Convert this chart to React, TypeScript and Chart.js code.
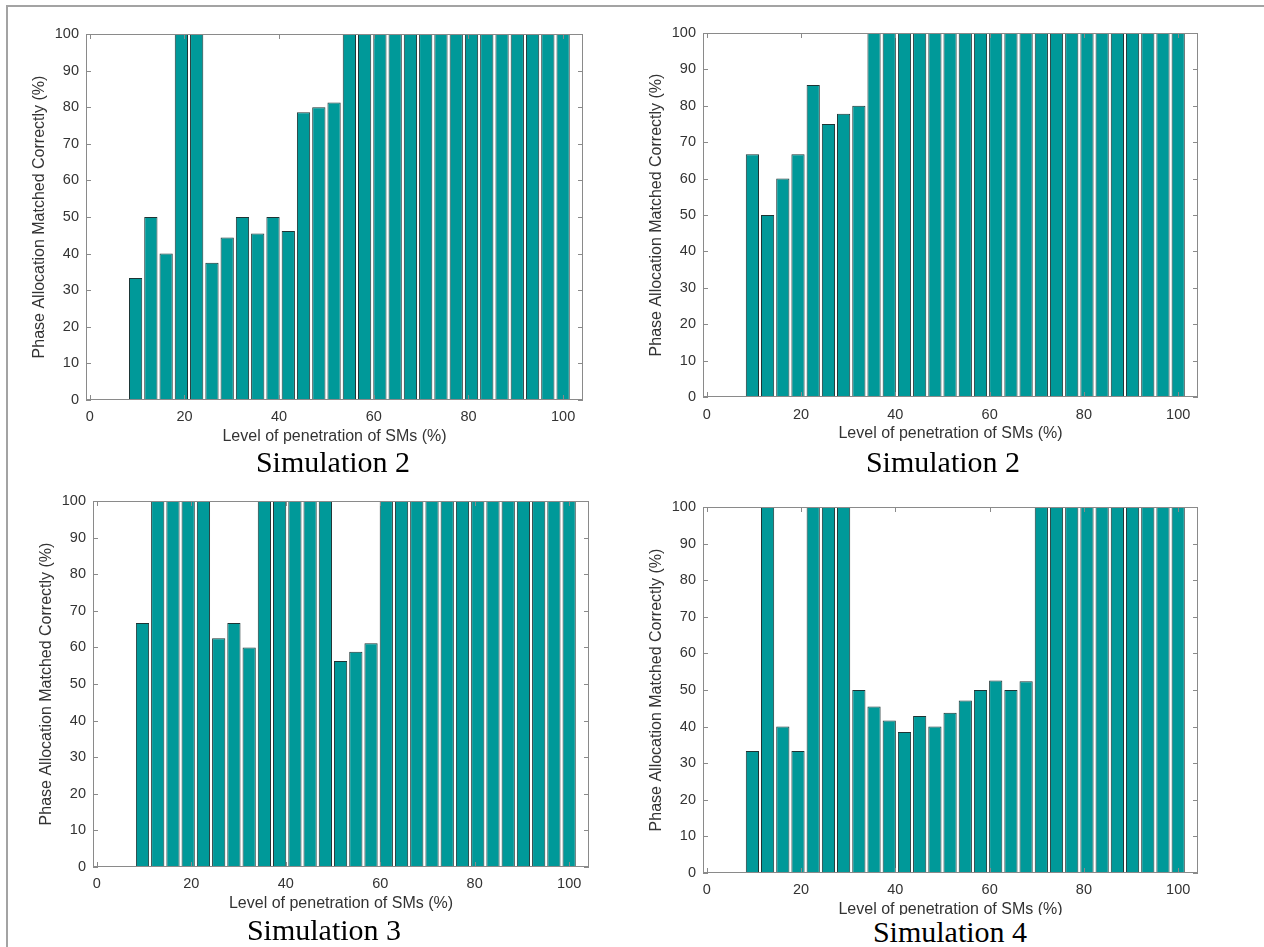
import React, { useEffect, useRef } from 'react';
import { Chart, registerables } from 'chart.js';

Chart.register(...registerables);

// Level of penetration of SMs (%) – bar positions
const penetration = [
  9.68, 12.9, 16.13, 19.35, 22.58, 25.81, 29.03, 32.26, 35.48, 38.71, 41.94, 45.16, 48.39, 51.61,
  54.84, 58.06, 61.29, 64.52, 67.74, 70.97, 74.19, 77.42, 80.65, 83.87, 87.1, 90.32, 93.55, 96.77, 100,
];

// Phase allocation matched correctly (%)
const simTopLeft = [
  33.3, 50, 40, 100, 100, 37.5, 44.4, 50, 45.5, 50, 46.2, 78.6, 80, 81.3,
  100, 100, 100, 100, 100, 100, 100, 100, 100, 100, 100, 100, 100, 100, 100,
];
const simTopRight = [
  66.7, 50, 60, 66.7, 85.7, 75, 77.8, 80,
  100, 100, 100, 100, 100, 100, 100, 100, 100, 100, 100, 100, 100, 100, 100, 100, 100, 100, 100, 100, 100,
];
const simBottomLeft = [
  66.7, 100, 100, 100, 100, 62.5, 66.7, 60, 100, 100, 100, 100, 100, 56.3, 58.8, 61.1,
  100, 100, 100, 100, 100, 100, 100, 100, 100, 100, 100, 100, 100,
];
const simBottomRight = [
  33.3, 100, 40, 33.3, 100, 100, 100, 50, 45.5, 41.7, 38.5, 42.9, 40, 43.8, 47.1, 50, 52.6, 50, 52.4,
  100, 100, 100, 100, 100, 100, 100, 100, 100, 100,
];

const xTicks = [0, 20, 40, 60, 80, 100];
const yTicks = [0, 10, 20, 30, 40, 50, 60, 70, 80, 90, 100];

const captions = ['Simulation 2', 'Simulation 2', 'Simulation 3', 'Simulation 4'];
const X_TITLE = 'Level of penetration of SMs (%)';
const Y_TITLE = 'Phase Allocation Matched Correctly (%)';

const BAR = 'rgb(0,153,153)';
const EDGE = '#1e3434';
const AXIS = '#8a8a8a';
const TXT = '#333333';
const FONT = '"Liberation Sans", Arial, sans-serif';
const TICK_SIZE = 14.5;
const TITLE_SIZE = 16;

type Spec = {
  values: number[];
  left: number;
  top: number;
  width: number;
  height: number;
  area: { left: number; top: number; right: number; bottom: number };
  tickCenter: number;
  xTitleCenter: number;
  yTitleCenter: number;
};

const panels: Spec[] = [
  {
    values: simTopLeft, left: 0, top: 0, width: 610, height: 452,
    area: { left: 86, top: 34, right: 583, bottom: 400 },
    tickCenter: 417, xTitleCenter: 437, yTitleCenter: 40,
  },
  {
    values: simTopRight, left: 620, top: 0, width: 644, height: 452,
    area: { left: 83, top: 33, right: 578, bottom: 397 },
    tickCenter: 415, xTitleCenter: 434, yTitleCenter: 37,
  },
  {
    values: simBottomLeft, left: 0, top: 470, width: 610, height: 452,
    area: { left: 93, top: 31, right: 589, bottom: 397 },
    tickCenter: 414, xTitleCenter: 434, yTitleCenter: 47,
  },
  {
    values: simBottomRight, left: 620, top: 470, width: 644, height: 452,
    area: { left: 83, top: 37, right: 578, bottom: 403 },
    tickCenter: 420, xTitleCenter: 440, yTitleCenter: 37,
  },
];

const captionPos = [
  { cx: 333, cy: 462 },
  { cx: 943, cy: 462 },
  { cx: 324, cy: 930 },
  { cx: 950, cy: 932 },
];

const boxPlugin = {
  id: 'matlabBox',
  afterDatasetsDraw(chart: any) {
    const { ctx, chartArea: a, scales } = chart;
    const x = scales.x;
    const y = scales.y;
    ctx.save();
    ctx.strokeStyle = AXIS;
    ctx.lineWidth = 1;
    ctx.strokeRect(a.left + 0.5, a.top + 0.5, a.right - a.left - 1, a.bottom - a.top - 1);
    const tl = 5;
    ctx.beginPath();
    xTicks.forEach((v) => {
      const px = Math.round(x.getPixelForValue(v)) + 0.5;
      ctx.moveTo(px, a.bottom);
      ctx.lineTo(px, a.bottom - tl);
      ctx.moveTo(px, a.top);
      ctx.lineTo(px, a.top + tl);
    });
    yTicks.forEach((v) => {
      const py = Math.round(y.getPixelForValue(v)) + 0.5;
      ctx.moveTo(a.left, py);
      ctx.lineTo(a.left + tl, py);
      ctx.moveTo(a.right, py);
      ctx.lineTo(a.right - tl, py);
    });
    ctx.stroke();
    ctx.restore();
  },
};

function Panel({ spec }: { spec: Spec }) {
  const ref = useRef<HTMLCanvasElement>(null);
  useEffect(() => {
    const canvas = ref.current;
    if (!canvas) return;
    const tickLH = TICK_SIZE * 1.2;
    const titleLH = TITLE_SIZE * 1.2;
    const chart = new Chart(canvas, {
      type: 'bar',
      data: {
        datasets: [
          {
            data: penetration.map((x, i) => ({ x, y: spec.values[i] })),
            backgroundColor: BAR,
            borderColor: EDGE,
            borderWidth: 1,
            borderSkipped: false,
            categoryPercentage: 1,
            barPercentage: 0.87,
          } as any,
        ],
      },
      options: {
        animation: false,
        responsive: false,
        maintainAspectRatio: false,
        devicePixelRatio: 1,
        layout: {
          padding: { left: 0, top: spec.area.top, right: spec.width - spec.area.right, bottom: 0 },
        },
        plugins: {
          legend: { display: false },
          tooltip: { enabled: false },
          title: { display: false },
        },
        scales: {
          x: {
            type: 'linear',
            min: -0.8,
            max: 104.2,
            bounds: 'data',
            offset: false,
            grid: { display: false, drawTicks: false, tickLength: 0 },
            border: { display: false },
            afterBuildTicks: (s: any) => {
              s.ticks = xTicks.map((v) => ({ value: v }));
            },
            afterFit: (s: any) => {
              s.height = spec.height - spec.area.bottom;
            },
            ticks: {
              autoSkip: false,
              maxRotation: 0,
              padding: spec.tickCenter - spec.area.bottom - tickLH / 2,
              color: TXT,
              font: { family: FONT, size: TICK_SIZE },
            },
            title: {
              display: true,
              text: X_TITLE,
              color: TXT,
              font: { family: FONT, size: TITLE_SIZE },
              padding: { top: 0, bottom: spec.height - spec.xTitleCenter - titleLH / 2 },
            },
          },
          y: {
            type: 'linear',
            min: 0,
            max: 100,
            grid: { display: false, drawTicks: false, tickLength: 0 },
            border: { display: false },
            afterBuildTicks: (s: any) => {
              s.ticks = yTicks.map((v) => ({ value: v }));
            },
            afterFit: (s: any) => {
              s.width = spec.area.left;
            },
            ticks: {
              padding: 7,
              color: TXT,
              font: { family: FONT, size: TICK_SIZE },
            },
            title: {
              display: true,
              text: Y_TITLE,
              color: TXT,
              font: { family: FONT, size: TITLE_SIZE },
              padding: { top: spec.yTitleCenter - titleLH / 2, bottom: 0 },
            },
          },
        },
      } as any,
      plugins: [boxPlugin],
    });
    return () => chart.destroy();
  }, [spec]);
  return (
    <canvas
      ref={ref}
      width={spec.width}
      height={spec.height}
      style={{ position: 'absolute', left: spec.left, top: spec.top, width: spec.width, height: spec.height }}
    />
  );
}

export default function App() {
  return (
    <div
      style={{
        position: 'absolute',
        left: 0,
        top: 0,
        width: 1264,
        height: 947,
        background: '#ffffff',
        overflow: 'hidden',
      }}
    >
      <div style={{ position: 'absolute', left: 6, top: 5, width: 1258, height: 2, background: '#a3a3a3' }} />
      <div style={{ position: 'absolute', left: 6, top: 5, width: 2, height: 942, background: '#a3a3a3' }} />
      {panels.map((p, i) => (
        <Panel key={i} spec={p} />
      ))}
      <div style={{ position: 'absolute', left: 760, top: 915, width: 400, height: 32, background: '#fff' }} />
      {captions.map((c, i) => (
        <div
          key={'c' + i}
          style={{
            position: 'absolute',
            left: captionPos[i].cx - 150,
            top: captionPos[i].cy - 15,
            width: 300,
            height: 30,
            lineHeight: '30px',
            textAlign: 'center',
            fontFamily: '"Liberation Serif", "Times New Roman", serif',
            fontSize: 30,
            color: '#000',
          }}
        >
          {c}
        </div>
      ))}
    </div>
  );
}
